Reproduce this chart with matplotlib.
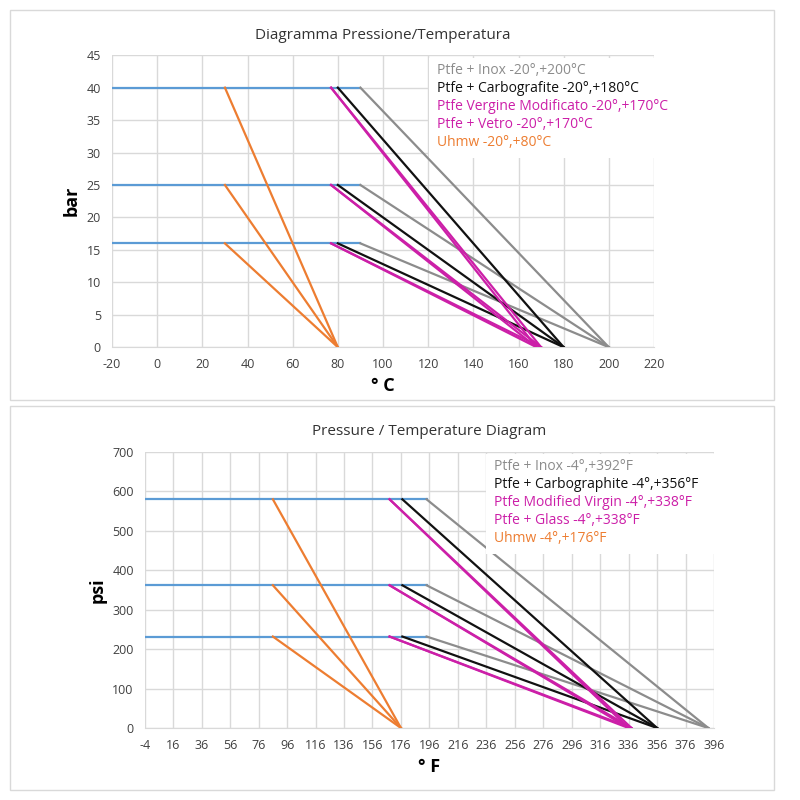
import matplotlib.pyplot as plt
from matplotlib.patches import Rectangle

# pressure levels
bar_levels = [40, 25, 16]
psi_levels = [580, 362, 232]

# (start temperature of slope, end temperature at 0) per material, Celsius
c_blue_range = [-20, 90]
c_inox = [90, 200]
c_carbo = [80, 180]
c_vergine = [77, 168]
c_vetro = [77, 170]
c_uhmw = [30, 80]

# same in Fahrenheit
f_blue_range = [-4, 194]
f_inox = [194, 392]
f_carbo = [177, 356]
f_virgin = [168, 336]
f_glass = [168, 338]
f_uhmw = [86, 176]

labels_c = ["Ptfe + Inox -20°,+200°C", "Ptfe + Carbografite -20°,+180°C",
            "Ptfe Vergine Modificato -20°,+170°C", "Ptfe + Vetro -20°,+170°C",
            "Uhmw -20°,+80°C"]
labels_f = ["Ptfe + Inox -4°,+392°F", "Ptfe + Carbographite -4°,+356°F",
            "Ptfe Modified Virgin -4°,+338°F", "Ptfe + Glass -4°,+338°F",
            "Uhmw -4°,+176°F"]
colors = ["#8c8c8c", "#111111", "#cc1fa8", "#cc1fa8", "#ed7d31"]
blue = "#5b9bd5"

plt.rcParams['font.family'] = ['Open Sans', 'DejaVu Sans']
plt.rcParams['axes.unicode_minus'] = False
fig = plt.figure(figsize=(8, 8), dpi=100)
fig.patches.append(Rectangle((0.0125, 0.5), 0.955, 0.4875, transform=fig.transFigure,
                             fill=False, edgecolor="#d9d9d9", lw=1))
fig.patches.append(Rectangle((0.0125, 0.0125), 0.955, 0.48, transform=fig.transFigure,
                             fill=False, edgecolor="#d9d9d9", lw=1))


def draw(ax, levels, blue_range, series, labels, xticks, ylim, yticks, xlabel, ylabel, title, leg_xy):
    for lv in levels:
        ax.plot(blue_range, [lv, lv], color=blue, lw=1.6, zorder=3)
    for (x0, x1), c in zip(series, colors):
        for lv in levels:
            ax.plot([x0, x1], [lv, 0], color=c, lw=1.6, zorder=3)
    ax.set_xlim(xticks[0], xticks[-1])
    ax.set_ylim(*ylim)
    ax.set_xticks(xticks)
    ax.set_yticks(yticks)
    ax.grid(color="#d9d9d9", lw=1)
    for s in ["top", "right", "left"]:
        ax.spines[s].set_visible(False)
    ax.spines["bottom"].set_color("#d9d9d9")
    ax.tick_params(length=0, labelsize=9, colors="#404040")
    ax.tick_params(axis="x", pad=8)
    ax.tick_params(axis="y", pad=8)
    ax.set_xlabel(xlabel, fontsize=13, fontweight="bold")
    ax.set_ylabel(ylabel, fontsize=13, fontweight="bold")
    ax.set_title(title, fontsize=11, color="#333333", pad=12)
    lx, ly = leg_xy
    fig.patches.append(Rectangle((lx - 0.01, ly - 0.11), 0.3, 0.125, transform=fig.transFigure,
                                 facecolor="white", edgecolor="none", zorder=4))
    for i, (t, c) in enumerate(zip(labels, colors)):
        fig.text(lx, ly - i * 0.0225, t, color=c, fontsize=10, va="center", zorder=5)


ax1 = fig.add_axes([0.14, 0.566, 0.6775, 0.365])
draw(ax1, bar_levels, c_blue_range, [c_inox, c_carbo, c_vergine, c_vetro, c_uhmw], labels_c,
     list(range(-20, 221, 20)), (0, 45), list(range(0, 46, 5)), "° C", "bar",
     "Diagramma Pressione/Temperatura", (0.546, 0.912))

ax2 = fig.add_axes([0.181, 0.09, 0.7115, 0.345])
draw(ax2, psi_levels, f_blue_range, [f_inox, f_carbo, f_virgin, f_glass, f_uhmw], labels_f,
     list(range(-4, 397, 20)), (0, 700), list(range(0, 701, 100)), "° F", "psi",
     "Pressure / Temperature Diagram", (0.6175, 0.4175))

fig.savefig("out.png", dpi=100)
